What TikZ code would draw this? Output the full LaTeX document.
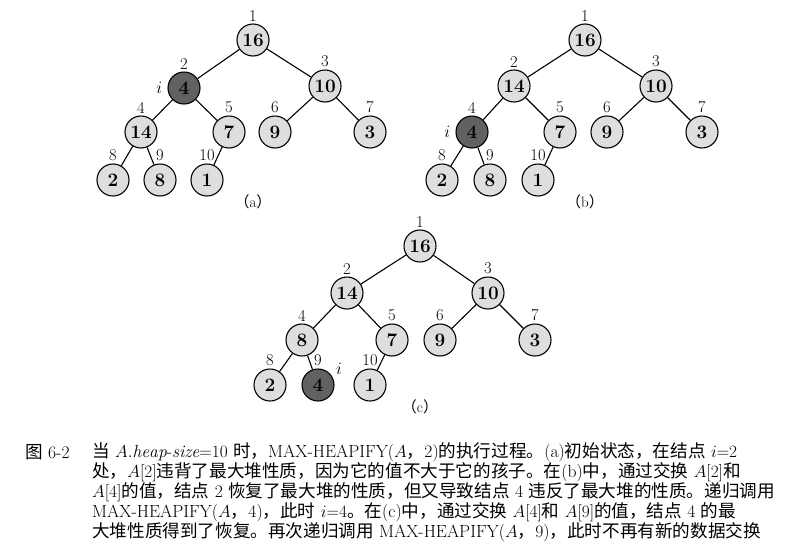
\documentclass[tikz,border=0pt]{standalone}
\usepackage{fontspec}
\newfontfamily\zhfont{Noto Sans CJK SC}
\newcommand{\zh}[1]{{\zhfont #1}}
\begin{document}
\begin{tikzpicture}[x=1pt,y=-1pt,
  hn/.style={circle,draw=black,line width=1.1pt,fill=black!13,minimum size=32pt,inner sep=0pt,font=\fontsize{19}{19}\selectfont\bfseries},
  dk/.style={hn,fill=black!62},
  idx/.style={font=\fontsize{16.5}{16.5}\selectfont,inner sep=0pt},
  ed/.style={line width=1.1pt},
  captext/.style={anchor=west,inner sep=0pt,font=\fontsize{17.6}{18}\selectfont}]
\useasboundingbox (0,0) rectangle (808,552);
% (a)
\node[hn] (a1) at (253,40) {16};
\node[dk] (a2) at (184,88) {4};
\node[hn] (a3) at (325,86) {10};
\node[hn] (a4) at (141,132) {14};
\node[hn] (a5) at (229,132) {7};
\node[hn] (a6) at (275,132) {9};
\node[hn] (a7) at (370,132) {3};
\node[hn] (a8) at (113,180) {2};
\node[hn] (a9) at (160,180) {8};
\node[hn] (a10) at (207,180) {1};
\node[font=\fontsize{15}{15}\selectfont] (la) at (253,202) {\zh{（}a\zh{）}};
\node[idx,left=5pt] (ia) at (a2.west) {$i$};
% (b)
\node[hn] (b1) at (585,40) {16};
\node[hn] (b2) at (514,86) {14};
\node[hn] (b3) at (656,86) {10};
\node[dk] (b4) at (472,132) {4};
\node[hn] (b5) at (560,132) {7};
\node[hn] (b6) at (607,132) {9};
\node[hn] (b7) at (702,132) {3};
\node[hn] (b8) at (442,180) {2};
\node[hn] (b9) at (490,180) {8};
\node[hn] (b10) at (538,180) {1};
\node[font=\fontsize{15}{15}\selectfont] (lb) at (585,202) {\zh{（}b\zh{）}};
\node[idx,left=5pt] (ib) at (b4.west) {$i$};
% (c)
\node[hn] (c1) at (420,246) {16};
\node[hn] (c2) at (347,293) {14};
\node[hn] (c3) at (488,293) {10};
\node[hn] (c4) at (302,340) {8};
\node[hn] (c5) at (392,340) {7};
\node[hn] (c6) at (440,340) {9};
\node[hn] (c7) at (535,340) {3};
\node[hn] (c8) at (270,385) {2};
\node[dk] (c9) at (318,385) {4};
\node[hn] (c10) at (370,385) {1};
\node[font=\fontsize{15}{15}\selectfont] (lc) at (420,407) {\zh{（}c\zh{）}};
\node[idx] (ic) at (339,369) {$i$};
\foreach \t in {a,b,c}{
  \draw[ed] (\t1)--(\t2); \draw[ed] (\t1)--(\t3);
  \draw[ed] (\t2)--(\t4); \draw[ed] (\t2)--(\t5);
  \draw[ed] (\t3)--(\t6); \draw[ed] (\t3)--(\t7);
  \draw[ed] (\t4)--(\t8); \draw[ed] (\t4)--(\t9);
  \draw[ed] (\t5)--(\t10);
  \foreach \k in {1,...,10}{
    \node[idx,above=2pt] (n\t\k) at (\t\k.north) {\k};
  }
}
% caption
\node[captext] (c0) at (25,452) {\zh{图} 6-2};
\node[captext] (l1) at (92,452) {\zh{当} $A.\mathit{heap\textup{-}size}{=}10$ \zh{时，}MAX-HEAPIFY($A$\zh{，}2)\zh{的执行过程。}(a)\zh{初始状态，在结点} $i{=}2$};
\node[captext] (l2) at (92,472) {\zh{处，}$A[2]$\zh{违背了最大堆性质，因为它的值不大于它的孩子。在}(b)\zh{中，通过交换} $A[2]$\zh{和}};
\node[captext] (l3) at (92,492) {$A[4]$\zh{的值，结点} 2 \zh{恢复了最大堆的性质，但又导致结点} 4 \zh{违反了最大堆的性质。递归调用}};
\node[captext] (l4) at (92,512) {MAX-HEAPIFY($A$\zh{，}4)\zh{，此时} $i{=}4$\zh{。在}(c)\zh{中，通过交换} $A[4]$\zh{和} $A[9]$\zh{的值，结点} 4 \zh{的最}};
\node[captext] (l5) at (92,532) {\zh{大堆性质得到了恢复。再次递归调用} MAX-HEAPIFY($A$\zh{，}9)\zh{，此时不再有新的数据交换}};
\end{tikzpicture}
\end{document}
